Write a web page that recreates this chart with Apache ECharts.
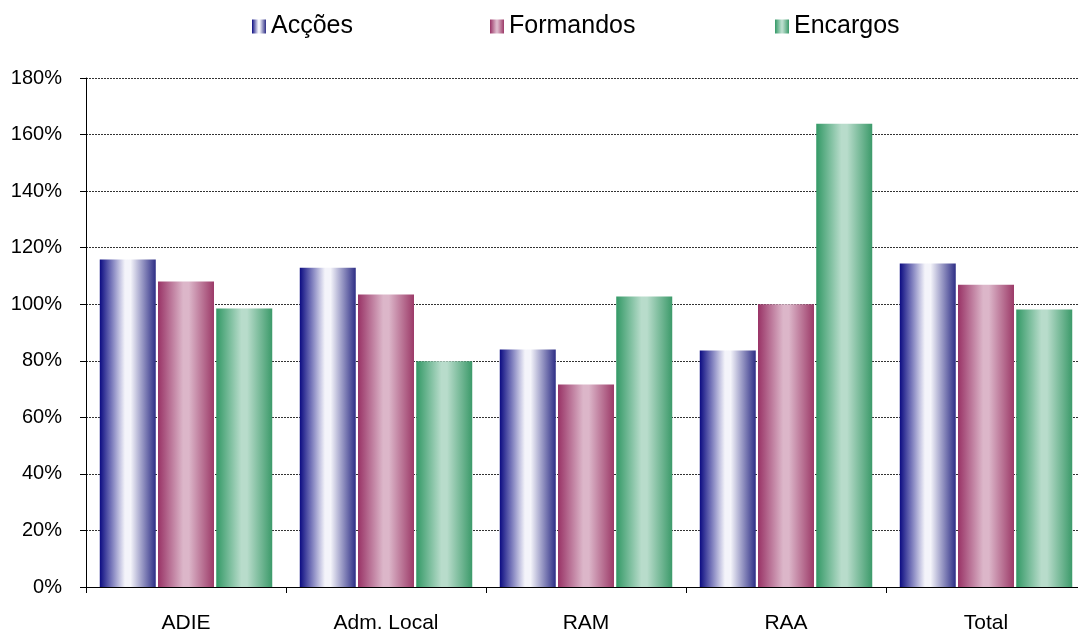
<!DOCTYPE html>
<html>
<head>
<meta charset="utf-8">
<script src="https://cdn.jsdelivr.net/npm/echarts@6/dist/echarts.min.js"></script>
<style>html,body{margin:0;padding:0;background:#fff;overflow:hidden}#c{width:1086px;height:634px}</style>
</head>
<body>
<div id="c"></div>
<script>
var categories = ['ADIE', 'Adm. Local', 'RAM', 'RAA', 'Total'];
var seriesNames = ['Acções', 'Formandos', 'Encargos'];
var accoes = [115.8, 112.9, 84.0, 83.6, 114.4];
var formandos = [108.0, 103.4, 71.6, 100.0, 106.9];
var encargos = [98.5, 79.8, 102.7, 163.8, 98.1];
var yTicks = [0, 20, 40, 60, 80, 100, 120, 140, 160, 180];

function grad(edgeL, mid, edgeR) {
  return new echarts.graphic.LinearGradient(0, 0, 1, 0, [
    {offset: 0, color: edgeL},
    {offset: 0.45, color: mid},
    {offset: 0.55, color: mid},
    {offset: 1, color: edgeR}
  ]);
}
var colors = [
  grad('#0c0c82', '#f4f4fa', '#2e2e86'),
  grad('#993366', '#dcb6c9', '#9c3a68'),
  grad('#339966', '#b8dccb', '#3c9a6a')
];
var data = [accoes, formandos, encargos];
var legendLefts = [252, 490, 775];

var chart = echarts.init(document.getElementById('c'), null, {renderer: 'canvas'});
chart.setOption({
  animation: false,
  textStyle: {fontFamily: 'Liberation Sans, Arial, sans-serif'},
  legend: seriesNames.map(function (n, i) {
    return {
      top: 14, left: legendLefts[i], itemWidth: 14, itemHeight: 14, padding: 0,
      icon: 'rect',
      textStyle: {fontSize: 25, color: '#000', fontFamily: 'Liberation Sans, Arial, sans-serif'},
      data: [n]
    };
  }),
  grid: {left: 86, top: 78, right: 0, bottom: 45, containLabel: false},
  xAxis: {
    type: 'category', data: categories,
    axisLine: {lineStyle: {color: '#000', width: 1}},
    axisTick: {show: true, length: 6, lineStyle: {color: '#000'}},
    axisLabel: {color: '#000', fontSize: 21, margin: 26},
    splitLine: {show: false}
  },
  yAxis: {
    type: 'value', min: 0, max: 180, interval: 20,
    axisLine: {show: true, lineStyle: {color: '#000', width: 1}},
    axisTick: {show: true, length: 6, lineStyle: {color: '#000'}},
    axisLabel: {color: '#000', fontSize: 20, margin: 24, formatter: function (v) { return yTicks.indexOf(v) >= 0 ? v + '%' : ''; }},
    splitLine: {show: true, lineStyle: {color: '#333', type: [2, 1], width: 1}}
  },
  series: seriesNames.map(function (n, i) {
    return {
      name: n, type: 'bar', data: data[i],
      barWidth: 56, barGap: '4%',
      itemStyle: {color: colors[i]}
    };
  })
});
</script>
</body>
</html>
